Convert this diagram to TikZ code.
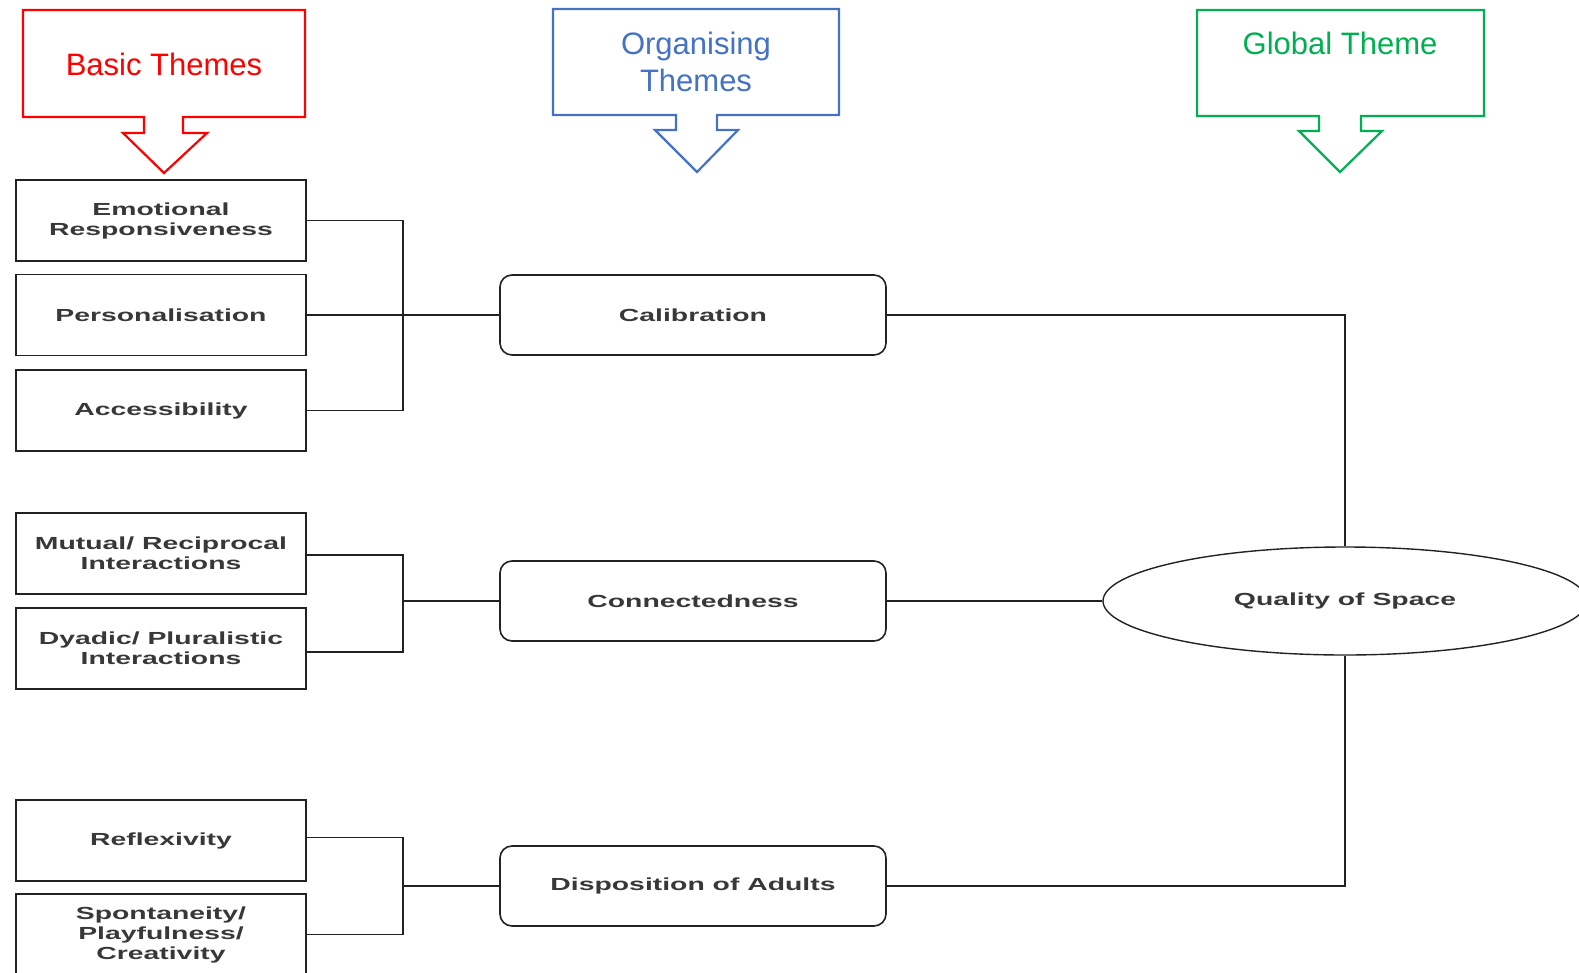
\documentclass[tikz,border=0pt]{standalone}
\usepackage{fontspec}
\setmainfont{Liberation Sans}
\newfontfamily\boxfont[FakeStretch=1.62]{Liberation Sans Bold}
\usetikzlibrary{shapes.geometric}
\definecolor{hred}{RGB}{255,0,0}
\definecolor{hblue}{RGB}{68,114,196}
\definecolor{hgreen}{RGB}{0,176,80}
\definecolor{ink}{RGB}{34,34,34}
\begin{document}
\begin{tikzpicture}[x=1pt,y=-1pt,
  basicbox/.style={draw=ink, line width=1.6pt, minimum width=290pt, minimum height=81pt,
    inner sep=0pt, align=center, text=ink!90, font=\boxfont\fontsize{17.5}{20}\selectfont},
  orgbox/.style={basicbox, minimum width=386pt, minimum height=80pt, rounded corners=12pt},
  globell/.style={draw=ink, line width=1.4pt, ellipse, minimum width=484pt, minimum height=108pt,
    inner sep=0pt, text=ink!90, font=\boxfont\fontsize{17.5}{20}\selectfont},
  link/.style={draw=ink, line width=1.3pt},
  callout/.style={line width=2.2pt, line join=miter},
  headtext/.style={align=center, inner sep=0pt, font=\fontsize{31}{37}\selectfont}
]
\useasboundingbox (0,0) rectangle (1579,972);
\clip (0,0) rectangle (1579,972);

% header callouts
\draw[callout, hred] (23,10) -- (305,10) -- (305,117) -- (183,117) -- (183,133) -- (207,133)
  -- (164,173) -- (123,133) -- (144,133) -- (144,117) -- (23,117) -- cycle;
\node[headtext, text=hred] (hbasic) at (164,64) {Basic Themes};

\draw[callout, hblue] (553,9) -- (839,9) -- (839,115) -- (717,115) -- (717,130) -- (738,130)
  -- (697,172) -- (655,130) -- (676,130) -- (676,115) -- (553,115) -- cycle;
\node[headtext, text=hblue] (horg) at (696,62) {Organising\\Themes};

\draw[callout, hgreen] (1197,10) -- (1484,10) -- (1484,116) -- (1361,116) -- (1361,131) -- (1382,131)
  -- (1340,172) -- (1299,131) -- (1319,131) -- (1319,116) -- (1197,116) -- cycle;
\node[headtext, text=hgreen] (hglob) at (1340,43) {Global Theme};

% basic themes
\node[basicbox] (emo) at (161,220.5) {Emotional\\Responsiveness};
\node[basicbox] (per) at (161,315) {Personalisation};
\node[basicbox] (acc) at (161,410.5) {Accessibility};
\node[basicbox] (mut) at (161,553.5) {Mutual/ Reciprocal\\Interactions};
\node[basicbox] (dya) at (161,648.5) {Dyadic/ Pluralistic\\Interactions};
\node[basicbox] (ref) at (161,840.5) {Reflexivity};
\node[basicbox] (spo) at (161,934.5) {Spontaneity/\\Playfulness/\\Creativity};

% organising themes
\node[orgbox] (cal) at (693,315) {Calibration};
\node[orgbox] (con) at (693,601) {Connectedness};
\node[orgbox] (dis) at (693,886) {Disposition of Adults};

% global theme
\node[globell] (qos) at (1345,601) {Quality of Space};

% bracket joints
\coordinate (j1) at (403,315);
\coordinate (j2) at (403,601);
\coordinate (j3) at (403,886);

\draw[link] (emo.east) -| (j1) |- (acc.east);
\draw[link] (per.east) -- (cal.west);
\draw[link] ([yshift=-1.5pt]mut.east) -| (j2) |- ([yshift=-3.5pt]dya.east);
\draw[link] (j2) -- (con.west);
\draw[link] ([yshift=3pt]ref.east) -| (j3) |- (spo.east);
\draw[link] (j3) -- (dis.west);

\draw[link] (cal.east) -| (qos.north);
\draw[link] (con.east) -- (qos.west);
\draw[link] (dis.east) -| (qos.south);
\end{tikzpicture}
\end{document}
